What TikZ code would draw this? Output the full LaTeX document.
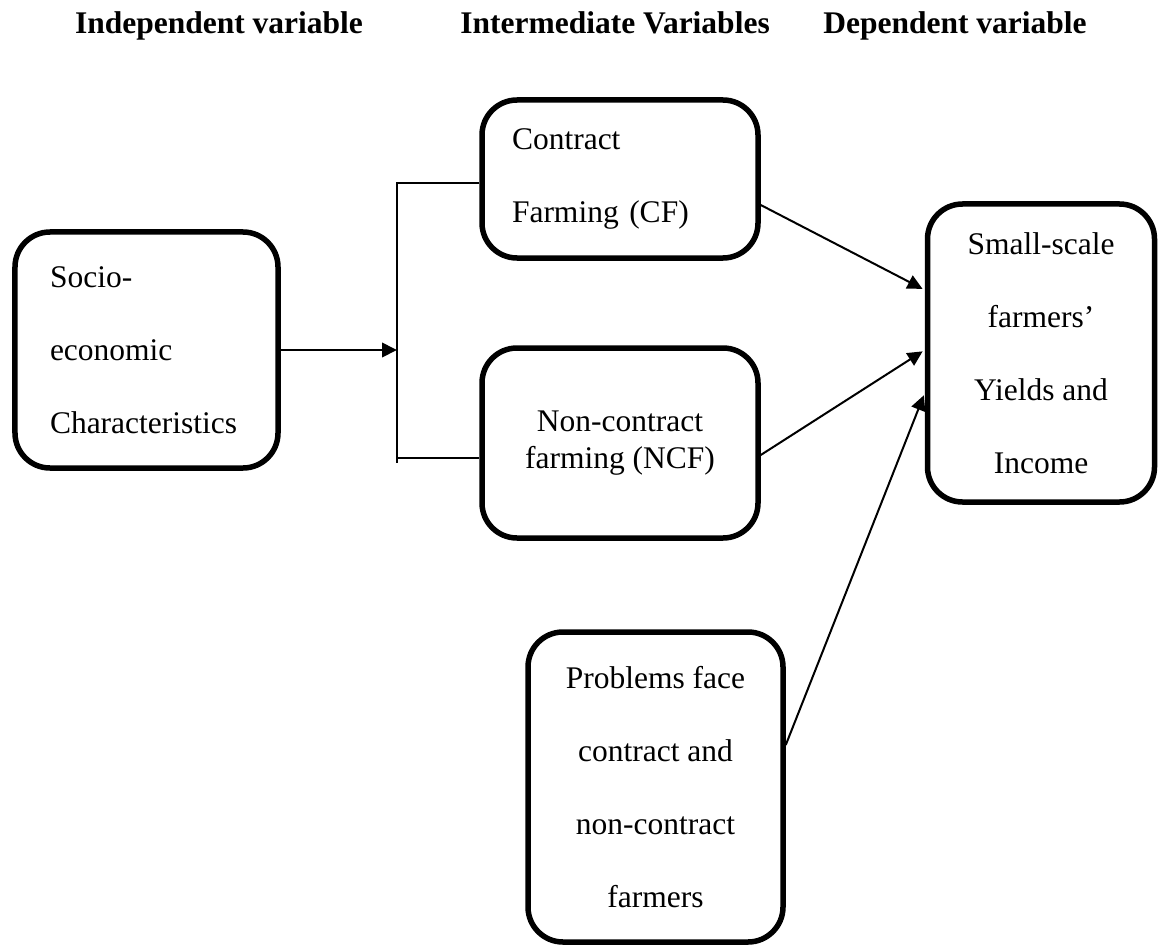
\documentclass[tikz,border=0pt]{standalone}
\usepackage{fontspec}
\setmainfont{Liberation Serif}
\usetikzlibrary{arrows.meta,calc}

\begin{document}
\begin{tikzpicture}[x=0.4pt,y=-0.4pt,
  font=\fontsize{12.6}{29.2}\selectfont,
  varbox/.style={draw,line width=2.2pt,rounded corners=14pt,inner sep=0pt},
  link/.style={line width=0.8pt},
  feed/.style={link,-{Triangle[length=6pt,width=5.8pt]}},
  heading/.style={font=\fontsize{12.6}{15}\selectfont\bfseries,anchor=base}]
  \useasboundingbox (0,0) rectangle (1159,946);

  % column titles
  \node[heading] (hind) at (219,34) {Independent variable};
  \node[heading] (hmid) at (615,34) {Intermediate Variables};
  \node[heading] (hdep) at (955,34) {Dependent variable};

  % variables
  \node[varbox,minimum width=105.2pt,minimum height=94.4pt,text width=77.2pt,align=left] (socio) at (146.5,350) {Socio-\\economic\\Characteristics};
  \node[varbox,minimum width=110.4pt,minimum height=63.2pt,text width=86.4pt,align=left] (cf) at (620,179) {Contract\\Farming (CF)};
  \node[varbox,minimum width=110.4pt,minimum height=76pt,align=center,font=\fontsize{12.6}{14.8}\selectfont] (ncf) at (620,443) {Non-contract\\farming (NCF)};
  \node[varbox,minimum width=90.8pt,minimum height=119.2pt,align=center] (ss) at (1041,353) {Small-scale\\farmers’\\Yields and\\Income};
  \node[varbox,minimum width=102pt,minimum height=124pt,align=center] (prob) at (655.5,787) {Problems face\\contract and\\non-contract\\farmers};

  % bracket
  \coordinate (jtop) at (397,183);
  \coordinate (jbot) at (397,458);
  \coordinate (jend) at (397,463);
  \draw[link] (jtop -| cf.west) -- (jtop) -- (jend);
  \draw[link] (jbot) -- (jbot -| ncf.west);
  \draw[feed] (socio.east) -- (socio.east -| jtop);

  % into the dependent variable
  \draw[feed,shorten >=1pt] ($(cf.east)+(0,26)$) -- ($(ss.west)+(0,-63)$);
  \draw[feed,shorten >=1pt] ($(ncf.east)+(0,12)$) -- ($(ss.west)+(0,-3)$);
  \draw[feed,shorten >=1pt] ($(prob.east)+(0,-42)$) -- ($(ss.west)+(0,40)$);
\end{tikzpicture}
\end{document}
